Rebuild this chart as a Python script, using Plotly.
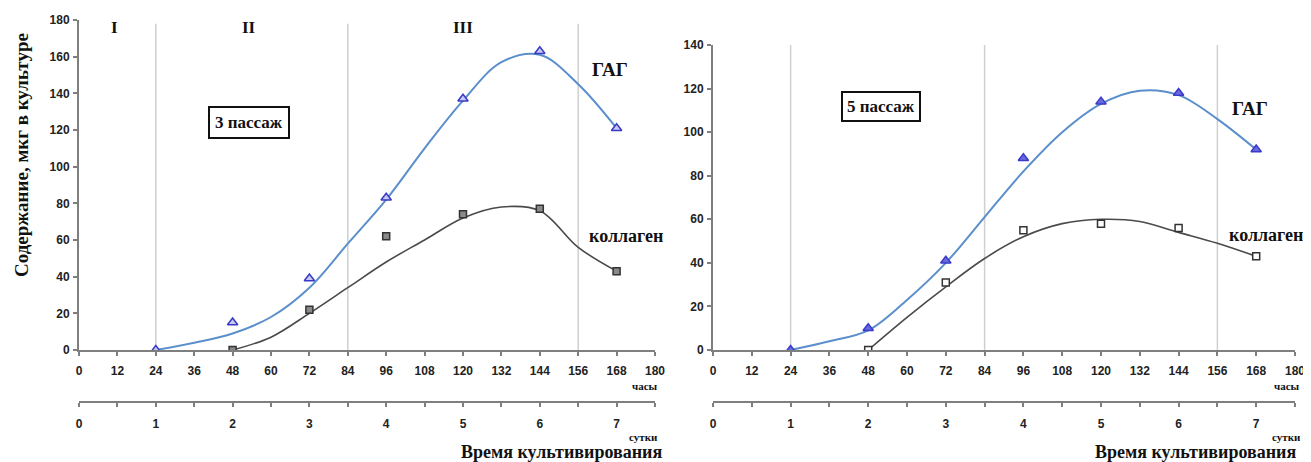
import plotly.graph_objects as go

# ---------------- data ----------------
hours = [24, 48, 72, 96, 120, 144, 168]
hours_col = [48, 72, 96, 120, 144, 168]

# 3 passage (left)
gag3 = [0, 15, 39, 83, 137, 163, 121]
col3 = [0, 22, 62, 74, 77, 43]
# smoothed curves
trend_h_gag = [24, 36, 48, 60, 72, 84, 96, 108, 120, 132, 144, 156, 168]
trend_gag3 = [0, 4, 9, 18, 34, 58, 82, 110, 136, 157, 161, 145, 121]
trend_h_col = [48, 60, 72, 84, 96, 108, 120, 132, 144, 156, 168]
trend_col3 = [0, 7, 20, 34, 48, 60, 72, 78, 76, 56, 43]

# 5 passage (right)
gag5 = [0, 10, 41, 88, 114, 118, 92]
col5 = [0, 31, 55, 58, 56, 43]
trend_gag5 = [0, 4, 9, 23, 40, 61, 82, 100, 113, 119, 117, 106, 92]
trend_col5 = [0, 15, 29, 42, 52, 58, 60, 59, 54, 49, 43]

hour_ticks = list(range(0, 181, 12))
hour_labels = [str(h) for h in hour_ticks]
day_labels = [str(h // 24) if h % 24 == 0 else "" for h in hour_ticks]
phase_lines = [24, 84, 156]
phases = ["I", "II", "III"]
phase_x = [11, 53, 120]

W, H = 1311, 462
OFF = 8  # page body margin offset
def px(x):
    return (x - OFF) / W
def py(y):
    return (H - (y - OFF)) / H

GAG_LINE = "#5b8fcb"
GAG_MK = "#3a3ac8"
COL_LINE = "#4a4a4a"
SERIF = "Liberation Serif, Times New Roman, serif"
SANS = "Liberation Sans, Arial, sans-serif"

fig = go.Figure()

def add_panel(xa, ya, tg, gag, tc, col, gfill, cfill):
    fig.add_trace(go.Scatter(x=trend_h_gag, y=tg, mode="lines", line=dict(color=GAG_LINE, width=2, shape="spline", smoothing=1.0),
                             xaxis=xa, yaxis=ya, showlegend=False, hoverinfo="skip"))
    fig.add_trace(go.Scatter(x=trend_h_col, y=tc, mode="lines", line=dict(color=COL_LINE, width=1.6, shape="spline", smoothing=1.0),
                             xaxis=xa, yaxis=ya, showlegend=False, hoverinfo="skip"))
    fig.add_trace(go.Scatter(x=hours_col, y=col, mode="markers",
                             marker=dict(symbol="square", size=7, color=cfill, line=dict(color="#333333", width=1.5)),
                             xaxis=xa, yaxis=ya, showlegend=False))
    fig.add_trace(go.Scatter(x=hours, y=gag, mode="markers",
                             marker=dict(symbol="triangle-up", size=9, color=gfill, line=dict(color=GAG_MK, width=1.5)),
                             xaxis=xa, yaxis=ya, showlegend=False))

add_panel("x", "y", trend_gag3, gag3, trend_col3, col3, "#c8c8f0", "#8a8a8a")
add_panel("x2", "y2", trend_gag5, gag5, trend_col5, col5, "#6a6ae0", "white")

# phase separators
for xa, ya, top in [("x", "y", 178), ("x2", "y2", 140)]:
    for h in phase_lines:
        fig.add_shape(type="line", xref=xa, yref=ya, x0=h, x1=h, y0=0, y1=top,
                      line=dict(color="#cfcfcf", width=1.5), layer="below")

tickfont = dict(family=SANS, size=12, color="#222222", weight="bold")
axis_common = dict(showgrid=False, zeroline=False, showline=True, linecolor="#7f7f7f", linewidth=2,
                   ticks="outside", tickcolor="#7f7f7f", ticklen=4, tickwidth=1.5, tickfont=tickfont,
                   automargin=False)

xl = [px(79), px(655)]
xr = [px(713), px(1295)]
yb = py(350)
day_pos = py(402)

fig.update_layout(
    template="none",
    width=W, height=H, margin=dict(l=0, r=0, t=0, b=0, pad=0),
    paper_bgcolor="white", plot_bgcolor="white", showlegend=False,
    xaxis=dict(domain=xl, range=[0, 180], anchor="y", tickmode="array", tickvals=hour_ticks, ticktext=hour_labels,
               ticklabelstandoff=5, **axis_common),
    yaxis=dict(domain=[yb, py(20)], range=[0, 180], anchor="x", tickmode="array",
               tickvals=list(range(0, 181, 20)), ticklabelstandoff=1, **axis_common),
    xaxis3=dict(domain=xl, range=[0, 180], overlaying="x", anchor="free", position=day_pos,
                tickmode="array", tickvals=hour_ticks, ticktext=day_labels, ticklabelstandoff=7, **axis_common),
    xaxis2=dict(domain=xr, range=[0, 180], anchor="y2", tickmode="array", tickvals=hour_ticks, ticktext=hour_labels,
                ticklabelstandoff=5, **axis_common),
    yaxis2=dict(domain=[yb, py(45)], range=[0, 140], anchor="x2", tickmode="array",
                tickvals=list(range(0, 141, 20)), ticklabelstandoff=1, **axis_common),
    xaxis4=dict(domain=xr, range=[0, 180], overlaying="x2", anchor="free", position=day_pos,
                tickmode="array", tickvals=hour_ticks, ticktext=day_labels, ticklabelstandoff=7, **axis_common),
)
# dummy traces to make overlay axes render
fig.add_trace(go.Scatter(x=[0], y=[None], xaxis="x3", yaxis="y", showlegend=False, hoverinfo="skip"))
fig.add_trace(go.Scatter(x=[0], y=[None], xaxis="x4", yaxis="y2", showlegend=False, hoverinfo="skip"))

def ann(text, x, y, xref="paper", yref="paper", size=16, **kw):
    fig.add_annotation(text=text, x=x, y=y, xref=xref, yref=yref, showarrow=False,
                       xanchor="center", yanchor="middle",
                       font=dict(family=SERIF, size=size, color="#111111"), **kw)

# Roman numerals
for p, pxh in zip(phases, phase_x):
    ann("<b>%s</b>" % p, pxh, 176, "x", "y", size=17)

ann("<b>3 пассаж</b>", 53, 124, "x", "y", size=17, bordercolor="#111111", borderwidth=2, borderpad=5, bgcolor="white")
ann("<b>5 пассаж</b>", 52, 112, "x2", "y2", size=17, bordercolor="#111111", borderwidth=2, borderpad=4, bgcolor="white")
ann("<b>ГАГ</b>", 166, 153, "x", "y", size=19)
ann("<b>коллаген</b>", 171, 62, "x", "y", size=18)
ann("<b>ГАГ</b>", 166, 111, "x2", "y2", size=19)
ann("<b>коллаген</b>", 171, 53, "x2", "y2", size=18)

ann("<b>Содержание, мкг в культуре</b>", px(21), py(155), size=19, textangle=-90)

for cx_h, cx_s, cx_t in [(645, 643, 561), (1287, 1286, 1195)]:
    ann("<b>часы</b>", px(cx_h), py(386), size=11)
    ann("<b>сутки</b>", px(cx_s), py(437), size=11)
    ann("<b>Время культивирования</b>", px(cx_t), py(452), size=18)

fig.write_html("out.html")
